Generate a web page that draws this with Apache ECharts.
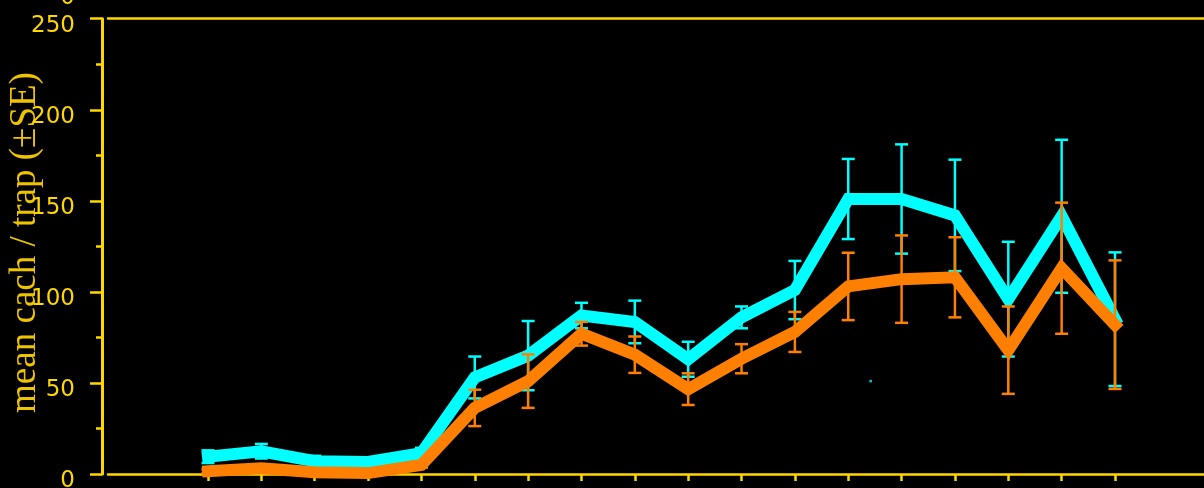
<!DOCTYPE html>
<html>
<head>
<meta charset="utf-8">
<style>
html,body{margin:0;padding:0;background:#000;}
#c{width:1204px;height:488px;}
</style>
<script src="https://cdn.jsdelivr.net/npm/echarts@6/dist/echarts.min.js"></script>
</head>
<body>
<div id="c"></div>
<script>
// ---- data ----
const samples = [1,2,3,4,5,6,7,8,9,10,11,12,13,14,15,16,17,18];
const cyanMean   = [9.5, 12.5, 7, 6.6, 11.4, 53, 65, 87, 83.5, 63, 86, 101, 151, 151, 142, 96, 141.5, 85];
const cyanSE     = [3.5, 4, 3, 2.5, 3, 11.5, 19, 7, 11.7, 9.6, 6, 16, 22, 30, 30.6, 31.5, 42, 36.7];
const orangeMean = [1.5, 3.2, 1, 0.5, 5, 36.3, 51, 77, 65.5, 46.6, 63.3, 78, 103, 107, 108, 68, 113, 82];
const orangeSE   = [1, 1.5, 0.8, 0.5, 1.5, 10, 14.7, 6.5, 10, 8.7, 8, 11, 18.5, 24, 22, 24, 36, 35.3];
const strayPoint = [[13.42, 51]];
const yTicks = [0, 50, 100, 150, 200, 250];
const yTitle = 'mean cach / trap (\u00B1SE)';

const YEL = '#ffd700';
const CYAN = '#00ffff';
const ORANGE = '#ff7f00';

function pairs(xs, ys) { return xs.map((x, i) => [x, ys[i]]); }
function triples(xs, ys, es) { return xs.map((x, i) => [x, ys[i], es[i]]); }

function errRender(color) {
  return function (params, api) {
    const x = api.value(0), m = api.value(1), se = api.value(2);
    const t = api.coord([x, m + se]);
    const b = api.coord([x, m - se]);
    const hw = 6.5;
    const st = { stroke: color, lineWidth: 2.5 };
    return {
      type: 'group',
      children: [
        { type: 'line', shape: { x1: t[0], y1: t[1], x2: b[0], y2: b[1] }, style: st },
        { type: 'line', shape: { x1: t[0] - hw, y1: t[1], x2: t[0] + hw, y2: t[1] }, style: st },
        { type: 'line', shape: { x1: b[0] - hw, y1: b[1], x2: b[0] + hw, y2: b[1] }, style: st }
      ]
    };
  };
}

const chart = echarts.init(document.getElementById('c'), null, { renderer: 'canvas' });
const spacing = (1115 - 208) / 17;
const gridLeft = 108;
const xMin = 1 - (208 - gridLeft) / spacing;
const xMax = 22;

chart.setOption({
  backgroundColor: '#000',
  animation: false,
  grid: {
    left: gridLeft, top: 18.7, height: 455.3,
    width: (xMax - xMin) * spacing,
    containLabel: false, outerBoundsMode: 'none'
  },
  xAxis: [{
    type: 'value', min: xMin, max: xMax, position: 'bottom',
    axisLine: { show: true, onZero: false, lineStyle: { color: YEL, width: 2.5 } },
    axisTick: { show: true, inside: false, length: 7, customValues: samples, lineStyle: { color: YEL, width: 2.5 } },
    axisLabel: { show: false },
    splitLine: { show: false }
  }, {
    type: 'value', min: xMin, max: xMax, position: 'top',
    axisLine: { show: true, onZero: false, lineStyle: { color: YEL, width: 2.5 } },
    axisTick: { show: false }, axisLabel: { show: false }, splitLine: { show: false }
  }],
  yAxis: {
    type: 'value', min: 0, max: 250, interval: 50, offset: 6, position: 'left',
    axisLine: { show: true, onZero: false, lineStyle: { color: YEL, width: 3 } },
    axisTick: { show: true, length: 12, customValues: yTicks, lineStyle: { color: YEL, width: 2.5 } },
    minorTick: { show: true, splitNumber: 2, length: 6, lineStyle: { color: YEL, width: 2.5 } },
    axisLabel: {
      show: true, customValues: yTicks, margin: 27, color: YEL,
      fontFamily: 'DejaVu Sans', fontSize: 23, verticalAlign: 'top', lineHeight: 15
    },
    splitLine: { show: false }
  },
  graphic: [{
    type: 'text', x: 25, y: 242.5, rotation: Math.PI / 2,
    style: {
      text: yTitle, fill: '#eec400', fontFamily: 'Liberation Serif', fontSize: 37,
      align: 'center', verticalAlign: 'middle'
    }
  }, {
    type: 'text', x: 75, y: -2,
    style: {
      text: '0', fill: YEL, fontFamily: 'DejaVu Sans', fontSize: 23,
      align: 'right', verticalAlign: 'middle'
    }
  }],
  series: [{
    type: 'line', z: 2, data: pairs(samples, cyanMean), symbol: 'none',
    lineStyle: { color: CYAN, width: 12, cap: 'square', join: 'miter' }
  }, {
    type: 'custom', z: 3, data: triples(samples, cyanMean, cyanSE),
    encode: { x: 0, y: 1 }, renderItem: errRender(CYAN)
  }, {
    type: 'line', z: 4, data: pairs(samples, orangeMean), symbol: 'none',
    lineStyle: { color: ORANGE, width: 12, cap: 'square', join: 'miter' }
  }, {
    type: 'custom', z: 5, data: triples(samples, orangeMean, orangeSE),
    encode: { x: 0, y: 1 }, renderItem: errRender(ORANGE)
  }, {
    type: 'scatter', z: 5, data: strayPoint, symbol: 'rect', symbolSize: 2.5,
    itemStyle: { color: CYAN }
  }]
});
</script>
</body>
</html>
